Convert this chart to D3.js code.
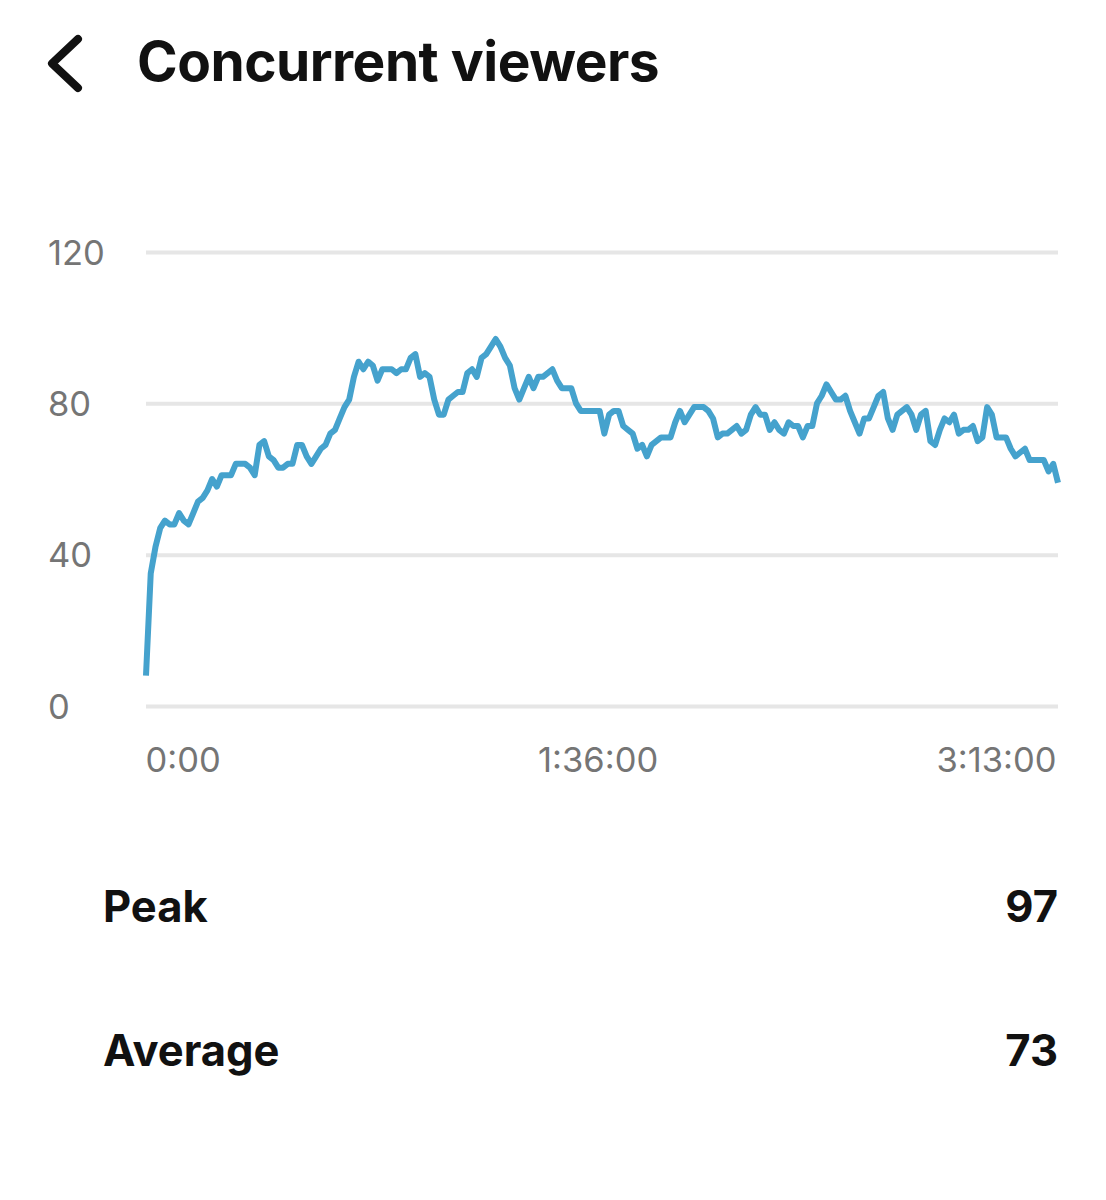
<!DOCTYPE html>
<html>
<head>
<meta charset="utf-8">
<script src="https://cdn.jsdelivr.net/npm/d3@7"></script>
<style>
  html, body { margin: 0; background: #fff; }
  svg { display: block; font-family: Inter, "Noto Sans", sans-serif; }
</style>
</head>
<body>
<svg id="chart" width="1106" height="1200"></svg>
<script>
const title = 'Concurrent viewers';

// one reading per minute
const viewers = [
  8, 35, 42, 47, 49, 48, 48, 51, 49, 48, 51, 54, 55, 57, 60, 58, 61, 61, 61, 64,
  64, 64, 63, 61, 69, 70, 66, 65, 63, 63, 64, 64, 69, 69, 66, 64, 66, 68, 69, 72,
  73, 76, 79, 81, 87, 91, 89, 91, 90, 86, 89, 89, 89, 88, 89, 89, 92, 93, 87, 88,
  87, 81, 77, 77, 81, 82, 83, 83, 88, 89, 87, 92, 93, 95, 97, 95, 92, 90, 84, 81,
  84, 87, 84, 87, 87, 88, 89, 86, 84, 84, 84, 80, 78, 78, 78, 78, 78, 72, 77, 78,
  78, 74, 73, 72, 68, 69, 66, 69, 70, 71, 71, 71, 75, 78, 75, 77, 79, 79, 79, 78,
  76, 71, 72, 72, 73, 74, 72, 73, 77, 79, 77, 77, 73, 75, 73, 72, 75, 74, 74, 71,
  74, 74, 80, 82, 85, 83, 81, 81, 82, 78, 75, 72, 76, 76, 79, 82, 83, 76, 73, 77,
  78, 79, 77, 73, 77, 78, 70, 69, 73, 76, 75, 77, 72, 73, 73, 74, 70, 71, 79, 77,
  71, 71, 71, 68, 66, 67, 68, 65, 65, 65, 65, 62, 64, 59
];
const yTicks = [0, 40, 80, 120];
const xTicks = [0, 96, 193];
const xTickLabels = ['0:00', '1:36:00', '3:13:00'];
const statLabels = ['Peak', 'Average'];
const statValues = [97, 73];

const svg = d3.select('#chart');

const x = d3.scaleLinear().domain([0, 193]).range([146, 1058]);
const y = d3.scaleLinear().domain([0, 120]).range([706, 252]);

// Header
svg.append('path')
  .attr('d', 'M78,39 L52,63.5 L78,88')
  .attr('fill', 'none')
  .attr('stroke', '#111')
  .attr('stroke-width', 8)
  .attr('stroke-linecap', 'round')
  .attr('stroke-linejoin', 'round');

svg.append('text')
  .attr('x', 137)
  .attr('y', 81)
  .attr('font-size', 55)
  .attr('font-weight', 700)
  .attr('letter-spacing', -0.5)
  .attr('fill', '#111')
  .text(title);

// Y axis with gridlines
const yAxis = svg.append('g')
  .attr('transform', 'translate(146,0)')
  .call(d3.axisLeft(y).tickValues(yTicks).tickSize(0).tickPadding(0));
yAxis.select('.domain').remove();
yAxis.selectAll('.tick line')
  .attr('x2', 912)
  .attr('stroke', '#e6e6e6')
  .attr('stroke-width', 4);
yAxis.selectAll('.tick text')
  .attr('x', -98)
  .attr('dy', '0.35em')
  .attr('text-anchor', 'start')
  .attr('font-family', 'Inter, "Noto Sans", sans-serif')
  .attr('font-size', 34.5)
  .attr('fill', '#757575');

// X axis, outer labels hug the plot edges
const xAxis = svg.append('g')
  .attr('transform', 'translate(0,706)')
  .call(d3.axisBottom(x).tickValues(xTicks).tickSize(0).tickFormat((d, i) => xTickLabels[i]));
xAxis.select('.domain').remove();
xAxis.selectAll('.tick text')
  .attr('x', (d, i) => [-1, -2, -2][i])
  .attr('y', 66)
  .attr('dy', 0)
  .attr('font-family', 'Inter, "Noto Sans", sans-serif')
  .attr('font-size', 34.5)
  .attr('fill', '#757575')
  .attr('text-anchor', (d, i) => ['start', 'middle', 'end'][i]);

// Viewer line
const line = d3.line()
  .x((d, i) => x(i))
  .y(d => y(d));

svg.append('path')
  .datum(viewers)
  .attr('d', line)
  .attr('fill', 'none')
  .attr('stroke', '#45a2cd')
  .attr('stroke-width', 6)
  .attr('stroke-linejoin', 'round');

// Stats rows
const statY = d3.scalePoint().domain(statLabels).range([922, 1066]);

const rows = svg.selectAll('g.stat')
  .data(statLabels)
  .enter()
  .append('g')
  .attr('class', 'stat')
  .attr('transform', d => `translate(0,${statY(d)})`)
  .attr('font-size', 43.5)
  .attr('font-weight', 700)
  .attr('fill', '#111');

rows.append('text').attr('x', 103).text(d => d);
rows.append('text')
  .attr('x', 1058)
  .attr('text-anchor', 'end')
  .text((d, i) => statValues[i]);
</script>
</body>
</html>
